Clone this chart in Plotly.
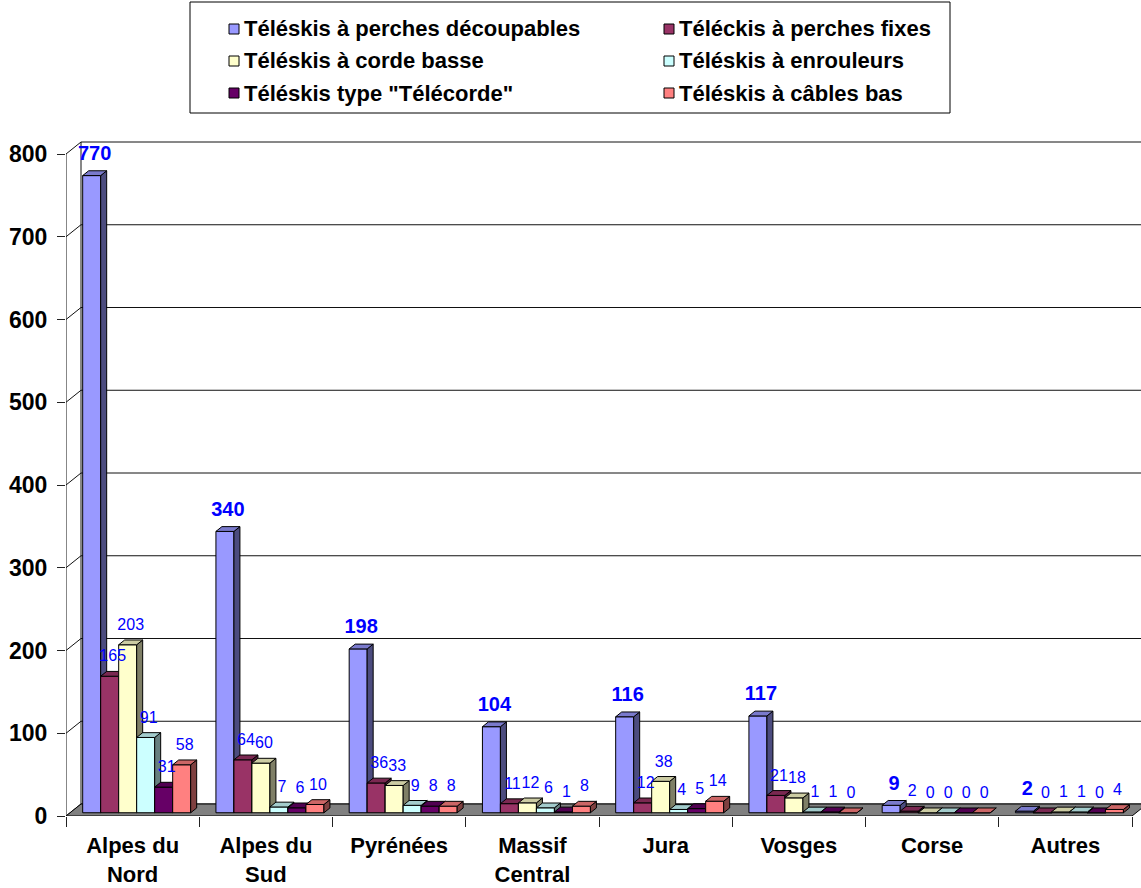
import plotly.graph_objects as go

# ---- data ---------------------------------------------------------------
regions = ["Alpes du<br>Nord", "Alpes du<br>Sud", "Pyrénées", "Massif<br>Central",
           "Jura", "Vosges", "Corse", "Autres"]

series_names = [
    "Téléskis à perches découpables",
    "Téléckis à perches fixes",
    "Téléskis à corde basse",
    "Téléskis à enrouleurs",
    "Téléskis type \"Télécorde\"",
    "Téléskis à câbles bas",
]

perches_decoupables = [770, 340, 198, 104, 116, 117, 9, 2]
perches_fixes = [165, 64, 36, 11, 12, 21, 2, 0]
corde_basse = [203, 60, 33, 12, 38, 18, 0, 1]
enrouleurs = [91, 7, 9, 6, 4, 1, 0, 1]
telecorde = [31, 6, 8, 1, 5, 1, 0, 0]
cables_bas = [58, 10, 8, 8, 14, 0, 0, 4]

y_ticks = [0, 100, 200, 300, 400, 500, 600, 700, 800]

all_series = [perches_decoupables, perches_fixes, corde_basse,
              enrouleurs, telecorde, cables_bas]

# ---- styling ------------------------------------------------------------
front_colors = ["#9999FF", "#993366", "#FFFFCC", "#CCFFFF", "#660066", "#FF8080"]
FONT = "Arial, Liberation Sans, sans-serif"
LABEL_BLUE = "#0000FF"


def shade(hex_color, k):
    h = hex_color.lstrip("#")
    r, g, b = (int(h[i:i + 2], 16) for i in (0, 2, 4))
    return "#{:02X}{:02X}{:02X}".format(int(r * k), int(g * k), int(b * k))


# ---- page geometry (pixels) ---------------------------------------------
W, H = 1141, 888
M_L, M_R, M_T, M_B = 66, 0, 129, 72
PLOT_W = W - M_L - M_R
PLOT_H = H - M_T - M_B
PX_PER_CAT = 133.25
Y_MAX = PLOT_H / 0.8275
X_MAX = PLOT_W / PX_PER_CAT
PX_PER_VAL = PLOT_H / Y_MAX

# depth of the 3D box, expressed in data units
DX = 15 / PX_PER_CAT
DY = 12 / PX_PER_VAL
BAR_W = 18 / PX_PER_CAT
F_FRONT = 0.27      # depth position of the bar fronts
F_DEPTH = 0.40      # depth of each bar
BDX, BDY = F_DEPTH * DX, F_DEPTH * DY

n_cat = len(regions)
n_ser = len(all_series)
group_margin = (1 - n_ser * BAR_W) / 2

fig = go.Figure()

# ---- walls --------------------------------------------------------------
wx, wy = [], []
for v in y_ticks:
    wx += [0, DX, n_cat + DX, None]
    wy += [v, v + DY, v + DY, None]
wx += [DX, DX, None, 0, 0, None]
wy += [DY, y_ticks[-1] + DY, None, 0, y_ticks[-1], None]
fig.add_trace(go.Scatter(x=wx, y=wy, mode="lines",
                         line=dict(color="#111111", width=1),
                         hoverinfo="skip", showlegend=False))

# floor
fig.add_trace(go.Scatter(x=[0, n_cat, n_cat + DX, DX, 0],
                         y=[0, 0, DY, DY, 0],
                         mode="lines", fill="toself", fillcolor="#808080",
                         line=dict(color="#000000", width=1),
                         hoverinfo="skip", showlegend=False))

# ---- bars (front / side / top faces, painted left to right) -------------
label_traces = []
for j, (name, vals) in enumerate(zip(series_names, all_series)):
    fx, fy, sx, sy, tx, ty = [], [], [], [], [], []
    lx, ly = [], []
    for i, v in enumerate(vals):
        x0 = i + group_margin + j * BAR_W + F_FRONT * DX
        x1 = x0 + BAR_W
        y0 = F_FRONT * DY
        y1 = y0 + v
        fx += [x0, x1, x1, x0, x0, None]
        fy += [y0, y0, y1, y1, y0, None]
        sx += [x1, x1 + BDX, x1 + BDX, x1, x1, None]
        sy += [y0, y0 + BDY, y1 + BDY, y1, y0, None]
        tx += [x0, x1, x1 + BDX, x0 + BDX, x0, None]
        ty += [y1, y1, y1 + BDY, y1 + BDY, y1, None]
        lx.append(x0 + BAR_W / 2 + BDX / 2)
        ly.append(y1 + BDY + 6 / PX_PER_VAL)
    col = front_colors[j]
    for xs, ys, c in ((fx, fy, col), (sx, sy, shade(col, 0.5)), (tx, ty, shade(col, 0.8))):
        fig.add_trace(go.Scatter(x=xs, y=ys, mode="lines", fill="toself",
                                 fillcolor=c, line=dict(color="#000000", width=1),
                                 name=name, hoverinfo="skip", showlegend=False))
    big = j == 0
    label_traces.append(go.Scatter(
        x=lx, y=ly, mode="text", text=[str(v) for v in vals],
        textposition="top center", cliponaxis=False, showlegend=False,
        hoverinfo="skip",
        textfont=dict(family=FONT, size=20 if big else 16, color=LABEL_BLUE,
                      weight="bold" if big else "normal")))

for t in label_traces:
    fig.add_trace(t)


# ---- legend (boxed, two columns) ---------------------------------------
def px_x(p):
    return (p - M_L) / PLOT_W


def px_y(p):
    return (H - M_B - p) / PLOT_H


shapes = [dict(type="rect", xref="paper", yref="paper",
               x0=px_x(190), x1=px_x(950), y0=px_y(113), y1=px_y(2),
               line=dict(color="#000000", width=1), fillcolor="#FFFFFF")]
annotations = []
col_x = [229, 664]
row_y = [29, 61, 93]
for k, name in enumerate(series_names):
    cx = col_x[k % 2]
    cy = row_y[k // 2]
    shapes.append(dict(type="rect", xref="paper", yref="paper",
                       x0=px_x(cx), x1=px_x(cx + 10),
                       y0=px_y(cy + 5), y1=px_y(cy - 5),
                       line=dict(color="#000000", width=1),
                       fillcolor=front_colors[k]))
    annotations.append(dict(xref="paper", yref="paper", x=px_x(cx + 13), y=px_y(cy),
                            xanchor="left", yanchor="middle", showarrow=False,
                            text="<b>%s</b>" % name,
                            font=dict(family=FONT, size=22, color="#000000")))

fig.update_layout(
    width=W, height=H, autosize=False,
    margin=dict(l=M_L, r=M_R, t=M_T, b=M_B, pad=0, autoexpand=False),
    paper_bgcolor="#FFFFFF", plot_bgcolor="#FFFFFF",
    showlegend=False,
    shapes=shapes, annotations=annotations,
    xaxis=dict(range=[0, X_MAX], showgrid=False, zeroline=False, showline=False,
               tickmode="array", tickvals=[i + 0.5 for i in range(n_cat)],
               ticktext=regions, ticks="", ticklabelstandoff=14, automargin=False,
               tickfont=dict(family=FONT, size=22, color="#000000", weight="bold"),
               fixedrange=True),
    xaxis2=dict(overlaying="x", matches="x", anchor="y", side="bottom",
                tickmode="array", tickvals=list(range(n_cat + 1)),
                ticks="outside", ticklen=10, tickcolor="#222222", automargin=False,
                showticklabels=False, showgrid=False, zeroline=False, showline=False),
    yaxis=dict(range=[0, Y_MAX], showgrid=False, zeroline=False, showline=False,
               tickmode="array", tickvals=y_ticks, ticks="outside", ticklen=8,
               tickcolor="#222222", ticklabelstandoff=5, automargin=False,
               tickfont=dict(family=FONT, size=23, color="#000000", weight="bold"),
               fixedrange=True),
)
# an invisible trace so the second x axis (category separators) is drawn
fig.add_trace(go.Scatter(x=[0], y=[0], xaxis="x2", mode="markers",
                         marker=dict(opacity=0), hoverinfo="skip", showlegend=False))

fig.write_html("out.html")
